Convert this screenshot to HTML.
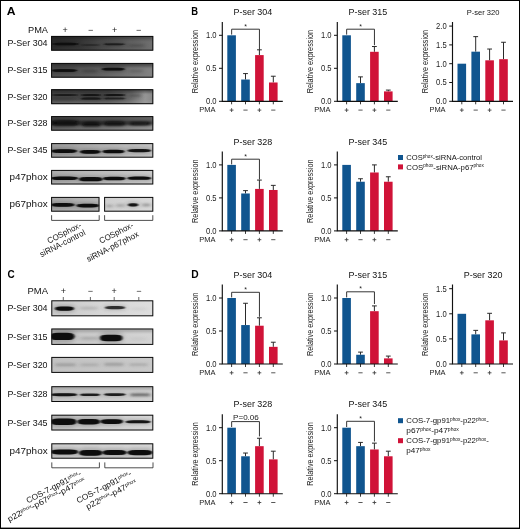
<!DOCTYPE html>
<html><head><meta charset="utf-8"><title>Figure</title>
<style>html,body{margin:0;padding:0;background:#fff}svg{display:block;will-change:transform;opacity:0.9999}body{font-family:"Liberation Sans",sans-serif}</style></head>
<body>
<svg width="520" height="529" viewBox="0 0 520 529" font-family="Liberation Sans, sans-serif">
<defs>
<filter id="b0" x="-30%" y="-200%" width="160%" height="500%"><feGaussianBlur stdDeviation="0.35"/></filter>
<filter id="b1" x="-30%" y="-200%" width="160%" height="500%"><feGaussianBlur stdDeviation="0.8 0.5"/></filter>
<filter id="b2" x="-30%" y="-200%" width="160%" height="500%"><feGaussianBlur stdDeviation="1.4 0.8"/></filter>
<filter id="b3" x="-30%" y="-200%" width="160%" height="500%"><feGaussianBlur stdDeviation="2.0 1.0"/></filter>
<filter id="b4" x="-30%" y="-200%" width="160%" height="500%"><feGaussianBlur stdDeviation="2.6 1.5"/></filter>
</defs>
<rect width="520" height="529" fill="#fff"/>
<text x="6.8" y="14.8" font-size="11.2" text-anchor="start" font-weight="bold" fill="#000" textLength="8.8" lengthAdjust="spacingAndGlyphs" >A</text>
<text x="191.3" y="15.1" font-size="11.2" text-anchor="start" font-weight="bold" fill="#000" textLength="6.8" lengthAdjust="spacingAndGlyphs" >B</text>
<text x="7.6" y="278.2" font-size="11.2" text-anchor="start" font-weight="bold" fill="#000" textLength="7.2" lengthAdjust="spacingAndGlyphs" >C</text>
<text x="191.3" y="278.2" font-size="11.2" text-anchor="start" font-weight="bold" fill="#000" textLength="7.4" lengthAdjust="spacingAndGlyphs" >D</text>
<text x="28" y="32.6" font-size="9.5" text-anchor="start" font-weight="normal" fill="#111" textLength="20" lengthAdjust="spacingAndGlyphs" >PMA</text>
<text x="65.2" y="33" font-size="9" text-anchor="middle" font-weight="normal" fill="#222" >+</text>
<text x="90.6" y="33" font-size="9" text-anchor="middle" font-weight="normal" fill="#222" >−</text>
<text x="114.6" y="33" font-size="9" text-anchor="middle" font-weight="normal" fill="#222" >+</text>
<text x="138.6" y="33" font-size="9" text-anchor="middle" font-weight="normal" fill="#222" >−</text>
<text x="47.6" y="46.2" font-size="9.5" text-anchor="end" font-weight="normal" fill="#111" textLength="40.2" lengthAdjust="spacingAndGlyphs" >P-Ser 304</text>
<text x="47.6" y="73.2" font-size="9.5" text-anchor="end" font-weight="normal" fill="#111" textLength="40.2" lengthAdjust="spacingAndGlyphs" >P-Ser 315</text>
<text x="47.6" y="99.7" font-size="9.5" text-anchor="end" font-weight="normal" fill="#111" textLength="40.2" lengthAdjust="spacingAndGlyphs" >P-Ser 320</text>
<text x="47.6" y="126.4" font-size="9.5" text-anchor="end" font-weight="normal" fill="#111" textLength="40.2" lengthAdjust="spacingAndGlyphs" >P-Ser 328</text>
<text x="47.6" y="153.39999999999998" font-size="9.5" text-anchor="end" font-weight="normal" fill="#111" textLength="40.2" lengthAdjust="spacingAndGlyphs" >P-Ser 345</text>
<text x="47.6" y="180.2" font-size="9.5" text-anchor="end" font-weight="normal" fill="#111" textLength="38" lengthAdjust="spacingAndGlyphs" >p47phox</text>
<text x="47.6" y="207.2" font-size="9.5" text-anchor="end" font-weight="normal" fill="#111" textLength="38" lengthAdjust="spacingAndGlyphs" >p67phox</text>
<defs><linearGradient id="g1" x1="0" x2="1" y1="0" y2="0"><stop offset="0" stop-color="#2c2c2c"/><stop offset="0.3" stop-color="#383838"/><stop offset="0.5" stop-color="#4a4a4a"/><stop offset="0.75" stop-color="#5e5e5e"/><stop offset="1" stop-color="#707070"/></linearGradient>
<clipPath id="c1"><rect x="51.2" y="36" width="102" height="14.6"/></clipPath></defs>
<rect x="51.2" y="36" width="102" height="14.6" fill="url(#g1)"/>
<g clip-path="url(#c1)">
<rect x="51.2" y="35" width="102" height="4.5" fill="#111" opacity="0.3" filter="url(#b2)"/>
<rect x="52.00" y="41.62" width="27.00" height="4.75" rx="2.38" fill="#080808" opacity="0.30" filter="url(#b4)"/>
<path d="M53.00 44.00Q53.00 42.70 60.50 42.70L70.50 42.70Q78.00 42.70 78.00 44.00Q78.00 45.30 70.50 45.30L60.50 45.30Q53.00 45.30 53.00 44.00Z" fill="#080808" opacity="0.95" filter="url(#b1)"/>
<rect x="81.00" y="43.29" width="19.00" height="3.42" rx="1.71" fill="#1c1c1c" opacity="0.16" filter="url(#b4)"/>
<path d="M82.00 45.00Q82.00 44.06 87.10 44.06L93.90 44.06Q99.00 44.06 99.00 45.00Q99.00 45.94 93.90 45.94L87.10 45.94Q82.00 45.94 82.00 45.00Z" fill="#1c1c1c" opacity="0.5" filter="url(#b1)"/>
<rect x="103.00" y="42.40" width="22.50" height="3.80" rx="1.90" fill="#0c0c0c" opacity="0.22" filter="url(#b4)"/>
<path d="M104.00 44.30Q104.00 43.26 110.15 43.26L118.35 43.26Q124.50 43.26 124.50 44.30Q124.50 45.34 118.35 45.34L110.15 45.34Q104.00 45.34 104.00 44.30Z" fill="#0c0c0c" opacity="0.7" filter="url(#b1)"/>
<rect x="128.00" y="43.89" width="17.00" height="3.42" rx="1.71" fill="#2a2a2a" opacity="0.11" filter="url(#b4)"/>
<path d="M129.00 45.60Q129.00 44.66 133.50 44.66L139.50 44.66Q144.00 44.66 144.00 45.60Q144.00 46.54 139.50 46.54L133.50 46.54Q129.00 46.54 129.00 45.60Z" fill="#2a2a2a" opacity="0.35" filter="url(#b2)"/>
</g>
<rect x="51.6" y="36.4" width="101.2" height="13.799999999999999" fill="none" stroke="#0c0c0c" stroke-width="1"/>
<defs><linearGradient id="g2" x1="0" x2="1" y1="0" y2="0"><stop offset="0" stop-color="#505050"/><stop offset="0.4" stop-color="#5c5c5c"/><stop offset="0.75" stop-color="#747474"/><stop offset="1" stop-color="#828282"/></linearGradient>
<clipPath id="c2"><rect x="51.2" y="63" width="102" height="14.6"/></clipPath></defs>
<rect x="51.2" y="63" width="102" height="14.6" fill="url(#g2)"/>
<g clip-path="url(#c2)">
<rect x="51.2" y="62" width="102" height="4.5" fill="#181818" opacity="0.5" filter="url(#b2)"/>
<rect x="50.50" y="68.12" width="27.50" height="4.75" rx="2.38" fill="#080808" opacity="0.28" filter="url(#b4)"/>
<path d="M51.50 70.50Q51.50 69.20 59.15 69.20L69.35 69.20Q77.00 69.20 77.00 70.50Q77.00 71.80 69.35 71.80L59.15 71.80Q51.50 71.80 51.50 70.50Z" fill="#080808" opacity="0.95" filter="url(#b1)"/>
<rect x="81.00" y="69.10" width="18.00" height="3.80" rx="1.90" fill="#2a2a2a" opacity="0.14" filter="url(#b4)"/>
<path d="M82.00 71.00Q82.00 69.96 86.80 69.96L93.20 69.96Q98.00 69.96 98.00 71.00Q98.00 72.04 93.20 72.04L86.80 72.04Q82.00 72.04 82.00 71.00Z" fill="#2a2a2a" opacity="0.45" filter="url(#b2)"/>
<rect x="101.00" y="66.73" width="24.50" height="4.94" rx="2.47" fill="#080808" opacity="0.28" filter="url(#b4)"/>
<path d="M102.00 69.20Q102.00 67.85 108.75 67.85L117.75 67.85Q124.50 67.85 124.50 69.20Q124.50 70.55 117.75 70.55L108.75 70.55Q102.00 70.55 102.00 69.20Z" fill="#080808" opacity="0.95" filter="url(#b1)"/>
<rect x="128.00" y="69.29" width="16.00" height="3.42" rx="1.71" fill="#3a3a3a" opacity="0.09" filter="url(#b4)"/>
<path d="M129.00 71.00Q129.00 70.06 133.20 70.06L138.80 70.06Q143.00 70.06 143.00 71.00Q143.00 71.94 138.80 71.94L133.20 71.94Q129.00 71.94 129.00 71.00Z" fill="#3a3a3a" opacity="0.3" filter="url(#b2)"/>
</g>
<rect x="51.6" y="63.4" width="101.2" height="13.799999999999999" fill="none" stroke="#0c0c0c" stroke-width="1"/>
<defs><linearGradient id="g3" x1="0" x2="1" y1="0" y2="0"><stop offset="0" stop-color="#484848"/><stop offset="0.55" stop-color="#505050"/><stop offset="0.78" stop-color="#6c6c6c"/><stop offset="0.92" stop-color="#969696"/><stop offset="1" stop-color="#888"/></linearGradient>
<clipPath id="c3"><rect x="51.2" y="89.3" width="102" height="14.8"/></clipPath></defs>
<rect x="51.2" y="89.3" width="102" height="14.8" fill="url(#g3)"/>
<g clip-path="url(#c3)">
<rect x="51.2" y="88.3" width="102" height="4" fill="#111" opacity="0.45" filter="url(#b2)"/>
<rect x="51.2" y="101" width="102" height="4" fill="#aaa" opacity="0.25" filter="url(#b2)"/>
<rect x="51.00" y="93.39" width="28.00" height="3.23" rx="1.61" fill="#101010" opacity="0.21" filter="url(#b4)"/>
<path d="M52.00 95.00Q52.00 94.12 59.80 94.12L70.20 94.12Q78.00 94.12 78.00 95.00Q78.00 95.88 70.20 95.88L59.80 95.88Q52.00 95.88 52.00 95.00Z" fill="#101010" opacity="0.7" filter="url(#b1)"/>
<rect x="80.00" y="93.10" width="22.00" height="3.80" rx="1.90" fill="#0c0c0c" opacity="0.24" filter="url(#b4)"/>
<path d="M81.00 95.00Q81.00 93.96 87.00 93.96L95.00 93.96Q101.00 93.96 101.00 95.00Q101.00 96.04 95.00 96.04L87.00 96.04Q81.00 96.04 81.00 95.00Z" fill="#0c0c0c" opacity="0.8" filter="url(#b1)"/>
<rect x="80.00" y="96.61" width="22.00" height="4.18" rx="2.09" fill="#0c0c0c" opacity="0.22" filter="url(#b4)"/>
<path d="M81.00 98.70Q81.00 97.56 87.00 97.56L95.00 97.56Q101.00 97.56 101.00 98.70Q101.00 99.84 95.00 99.84L87.00 99.84Q81.00 99.84 81.00 98.70Z" fill="#0c0c0c" opacity="0.75" filter="url(#b1)"/>
<rect x="103.00" y="93.10" width="23.00" height="3.80" rx="1.90" fill="#0c0c0c" opacity="0.26" filter="url(#b4)"/>
<path d="M104.00 95.00Q104.00 93.96 110.30 93.96L118.70 93.96Q125.00 93.96 125.00 95.00Q125.00 96.04 118.70 96.04L110.30 96.04Q104.00 96.04 104.00 95.00Z" fill="#0c0c0c" opacity="0.85" filter="url(#b1)"/>
<rect x="103.00" y="96.79" width="23.00" height="3.42" rx="1.71" fill="#101010" opacity="0.20" filter="url(#b4)"/>
<path d="M104.00 98.50Q104.00 97.56 110.30 97.56L118.70 97.56Q125.00 97.56 125.00 98.50Q125.00 99.44 118.70 99.44L110.30 99.44Q104.00 99.44 104.00 98.50Z" fill="#101010" opacity="0.65" filter="url(#b1)"/>
<rect x="128.00" y="93.79" width="14.00" height="3.42" rx="1.71" fill="#303030" opacity="0.14" filter="url(#b4)"/>
<path d="M129.00 95.50Q129.00 94.56 132.60 94.56L137.40 94.56Q141.00 94.56 141.00 95.50Q141.00 96.44 137.40 96.44L132.60 96.44Q129.00 96.44 129.00 95.50Z" fill="#303030" opacity="0.45" filter="url(#b2)"/>
<rect x="51.00" y="96.99" width="27.00" height="3.42" rx="1.71" fill="#222" opacity="0.09" filter="url(#b4)"/>
<path d="M52.00 98.70Q52.00 97.76 59.50 97.76L69.50 97.76Q77.00 97.76 77.00 98.70Q77.00 99.64 69.50 99.64L59.50 99.64Q52.00 99.64 52.00 98.70Z" fill="#222" opacity="0.3" filter="url(#b2)"/>
</g>
<rect x="51.6" y="89.7" width="101.2" height="14.0" fill="none" stroke="#0c0c0c" stroke-width="1"/>
<defs><linearGradient id="g4" x1="0" x2="1" y1="0" y2="0"><stop offset="0" stop-color="#606060"/><stop offset="0.5" stop-color="#747474"/><stop offset="1" stop-color="#949494"/></linearGradient>
<clipPath id="c4"><rect x="51.2" y="116.2" width="102" height="14.4"/></clipPath></defs>
<rect x="51.2" y="116.2" width="102" height="14.4" fill="url(#g4)"/>
<g clip-path="url(#c4)">
<rect x="49.2" y="114.5" width="106" height="9.5" fill="#161616" opacity="0.38" filter="url(#b3)"/>
<rect x="50.00" y="118.82" width="29.50" height="8.36" rx="4.18" fill="#080808" opacity="0.28" filter="url(#b4)"/>
<path d="M51.00 123.00Q51.00 120.71 59.25 120.71L70.25 120.71Q78.50 120.71 78.50 123.00Q78.50 125.29 70.25 125.29L59.25 125.29Q51.00 125.29 51.00 123.00Z" fill="#080808" opacity="0.95" filter="url(#b2)"/>
<rect x="81.00" y="120.78" width="20.50" height="6.84" rx="3.42" fill="#080808" opacity="0.27" filter="url(#b4)"/>
<path d="M82.00 124.20Q82.00 122.33 87.55 122.33L94.95 122.33Q100.50 122.33 100.50 124.20Q100.50 126.07 94.95 126.07L87.55 126.07Q82.00 126.07 82.00 124.20Z" fill="#080808" opacity="0.9" filter="url(#b2)"/>
<rect x="103.00" y="120.37" width="23.00" height="6.46" rx="3.23" fill="#080808" opacity="0.27" filter="url(#b4)"/>
<path d="M104.00 123.60Q104.00 121.83 110.30 121.83L118.70 121.83Q125.00 121.83 125.00 123.60Q125.00 125.37 118.70 125.37L110.30 125.37Q104.00 125.37 104.00 123.60Z" fill="#080808" opacity="0.9" filter="url(#b2)"/>
<rect x="128.50" y="121.13" width="23.00" height="4.94" rx="2.47" fill="#080808" opacity="0.26" filter="url(#b4)"/>
<path d="M129.50 123.60Q129.50 122.25 135.80 122.25L144.20 122.25Q150.50 122.25 150.50 123.60Q150.50 124.95 144.20 124.95L135.80 124.95Q129.50 124.95 129.50 123.60Z" fill="#080808" opacity="0.85" filter="url(#b2)"/>
<rect x="49.00" y="120.92" width="106.00" height="4.56" rx="2.28" fill="#0c0c0c" opacity="0.17" filter="url(#b4)"/>
<path d="M50.00 123.20Q50.00 121.95 81.20 121.95L122.80 121.95Q154.00 121.95 154.00 123.20Q154.00 124.45 122.80 124.45L81.20 124.45Q50.00 124.45 50.00 123.20Z" fill="#0c0c0c" opacity="0.55" filter="url(#b3)"/>
</g>
<rect x="51.6" y="116.60000000000001" width="101.2" height="13.6" fill="none" stroke="#0c0c0c" stroke-width="1"/>
<defs><linearGradient id="g5" x1="0" x2="1" y1="0" y2="0"><stop offset="0" stop-color="#9a9a9a"/><stop offset="0.5" stop-color="#b0b0b0"/><stop offset="1" stop-color="#c2c2c2"/></linearGradient>
<clipPath id="c5"><rect x="51.2" y="143.2" width="102" height="14.4"/></clipPath></defs>
<rect x="51.2" y="143.2" width="102" height="14.4" fill="url(#g5)"/>
<g clip-path="url(#c5)">
<rect x="50.00" y="147.68" width="28.00" height="6.84" rx="3.42" fill="#080808" opacity="0.16" filter="url(#b4)"/>
<path d="M51.00 151.10Q51.00 149.23 58.80 149.23L69.20 149.23Q77.00 149.23 77.00 151.10Q77.00 152.97 69.20 152.97L58.80 152.97Q51.00 152.97 51.00 151.10Z" fill="#080808" opacity="1" filter="url(#b1)"/>
<rect x="79.00" y="148.38" width="22.50" height="6.84" rx="3.42" fill="#080808" opacity="0.16" filter="url(#b4)"/>
<path d="M80.00 151.80Q80.00 149.93 86.15 149.93L94.35 149.93Q100.50 149.93 100.50 151.80Q100.50 153.67 94.35 153.67L86.15 153.67Q80.00 153.67 80.00 151.80Z" fill="#080808" opacity="1" filter="url(#b1)"/>
<rect x="101.50" y="148.27" width="24.00" height="6.46" rx="3.23" fill="#080808" opacity="0.16" filter="url(#b4)"/>
<path d="M102.50 151.50Q102.50 149.73 109.10 149.73L117.90 149.73Q124.50 149.73 124.50 151.50Q124.50 153.27 117.90 153.27L109.10 153.27Q102.50 153.27 102.50 151.50Z" fill="#080808" opacity="1" filter="url(#b1)"/>
<rect x="126.50" y="147.75" width="25.50" height="5.70" rx="2.85" fill="#080808" opacity="0.15" filter="url(#b4)"/>
<path d="M127.50 150.60Q127.50 149.04 134.55 149.04L143.95 149.04Q151.00 149.04 151.00 150.60Q151.00 152.16 143.95 152.16L134.55 152.16Q127.50 152.16 127.50 150.60Z" fill="#080808" opacity="0.95" filter="url(#b1)"/>
</g>
<rect x="51.6" y="143.6" width="101.2" height="13.6" fill="none" stroke="#0c0c0c" stroke-width="1"/>
<defs><linearGradient id="g6" x1="0" x2="1" y1="0" y2="0"><stop offset="0" stop-color="#acacac"/><stop offset="0.5" stop-color="#bcbcbc"/><stop offset="1" stop-color="#cacaca"/></linearGradient>
<clipPath id="c6"><rect x="51.2" y="170" width="102" height="14.4"/></clipPath></defs>
<rect x="51.2" y="170" width="102" height="14.4" fill="url(#g6)"/>
<g clip-path="url(#c6)">
<rect x="50.00" y="174.97" width="29.00" height="6.46" rx="3.23" fill="#080808" opacity="0.16" filter="url(#b4)"/>
<path d="M51.00 178.20Q51.00 176.43 59.10 176.43L69.90 176.43Q78.00 176.43 78.00 178.20Q78.00 179.97 69.90 179.97L59.10 179.97Q51.00 179.97 51.00 178.20Z" fill="#080808" opacity="1" filter="url(#b1)"/>
<rect x="78.00" y="175.40" width="25.50" height="7.60" rx="3.80" fill="#080808" opacity="0.16" filter="url(#b4)"/>
<path d="M79.00 179.20Q79.00 177.12 86.05 177.12L95.45 177.12Q102.50 177.12 102.50 179.20Q102.50 181.28 95.45 181.28L86.05 181.28Q79.00 181.28 79.00 179.20Z" fill="#080808" opacity="1" filter="url(#b1)"/>
<rect x="102.00" y="175.37" width="24.50" height="6.46" rx="3.23" fill="#080808" opacity="0.16" filter="url(#b4)"/>
<path d="M103.00 178.60Q103.00 176.83 109.75 176.83L118.75 176.83Q125.50 176.83 125.50 178.60Q125.50 180.37 118.75 180.37L109.75 180.37Q103.00 180.37 103.00 178.60Z" fill="#080808" opacity="1" filter="url(#b1)"/>
<rect x="126.50" y="175.16" width="25.50" height="6.08" rx="3.04" fill="#080808" opacity="0.16" filter="url(#b4)"/>
<path d="M127.50 178.20Q127.50 176.54 134.55 176.54L143.95 176.54Q151.00 176.54 151.00 178.20Q151.00 179.86 143.95 179.86L134.55 179.86Q127.50 179.86 127.50 178.20Z" fill="#080808" opacity="1" filter="url(#b1)"/>
</g>
<rect x="51.6" y="170.4" width="101.2" height="13.6" fill="none" stroke="#0c0c0c" stroke-width="1"/>
<defs><linearGradient id="g7" x1="0" x2="1" y1="0" y2="0"><stop offset="0" stop-color="#a8a8a8"/><stop offset="1" stop-color="#b8b8b8"/></linearGradient>
<clipPath id="c7"><rect x="51.2" y="197" width="48.2" height="14.6"/></clipPath></defs>
<rect x="51.2" y="197" width="48.2" height="14.6" fill="url(#g7)"/>
<g clip-path="url(#c7)">
<rect x="50.00" y="201.38" width="25.50" height="6.84" rx="3.42" fill="#080808" opacity="0.16" filter="url(#b4)"/>
<path d="M51.00 204.80Q51.00 202.93 58.05 202.93L67.45 202.93Q74.50 202.93 74.50 204.80Q74.50 206.67 67.45 206.67L58.05 206.67Q51.00 206.67 51.00 204.80Z" fill="#080808" opacity="1" filter="url(#b1)"/>
<rect x="75.50" y="202.18" width="24.50" height="6.84" rx="3.42" fill="#080808" opacity="0.16" filter="url(#b4)"/>
<path d="M76.50 205.60Q76.50 203.73 83.25 203.73L92.25 203.73Q99.00 203.73 99.00 205.60Q99.00 207.47 92.25 207.47L83.25 207.47Q76.50 207.47 76.50 205.60Z" fill="#080808" opacity="1" filter="url(#b1)"/>
</g>
<rect x="51.6" y="197.4" width="47.400000000000006" height="13.799999999999999" fill="none" stroke="#0c0c0c" stroke-width="1"/>
<defs><linearGradient id="g8" x1="0" x2="1" y1="0" y2="0"><stop offset="0" stop-color="#cfcfcf"/><stop offset="1" stop-color="#d8d8d8"/></linearGradient>
<clipPath id="c8"><rect x="104.2" y="197" width="49" height="14.6"/></clipPath></defs>
<rect x="104.2" y="197" width="49" height="14.6" fill="url(#g8)"/>
<g clip-path="url(#c8)">
<rect x="105.00" y="204.29" width="9.00" height="3.42" rx="1.71" fill="#555" opacity="0.06" filter="url(#b4)"/>
<path d="M106.00 206.00Q106.00 205.06 108.10 205.06L110.90 205.06Q113.00 205.06 113.00 206.00Q113.00 206.94 110.90 206.94L108.10 206.94Q106.00 206.94 106.00 206.00Z" fill="#555" opacity="0.35" filter="url(#b2)"/>
<rect x="115.00" y="203.79" width="11.00" height="3.42" rx="1.71" fill="#555" opacity="0.06" filter="url(#b4)"/>
<path d="M116.00 205.50Q116.00 204.56 118.70 204.56L122.30 204.56Q125.00 204.56 125.00 205.50Q125.00 206.44 122.30 206.44L118.70 206.44Q116.00 206.44 116.00 205.50Z" fill="#555" opacity="0.4" filter="url(#b2)"/>
<rect x="127.00" y="201.76" width="12.20" height="6.08" rx="3.04" fill="#0c0c0c" opacity="0.15" filter="url(#b4)"/>
<path d="M128.00 204.80Q128.00 203.14 131.06 203.14L135.14 203.14Q138.20 203.14 138.20 204.80Q138.20 206.46 135.14 206.46L131.06 206.46Q128.00 206.46 128.00 204.80Z" fill="#0c0c0c" opacity="0.95" filter="url(#b1)"/>
<rect x="141.00" y="203.10" width="10.50" height="3.80" rx="1.90" fill="#444" opacity="0.07" filter="url(#b4)"/>
<path d="M142.00 205.00Q142.00 203.96 144.55 203.96L147.95 203.96Q150.50 203.96 150.50 205.00Q150.50 206.04 147.95 206.04L144.55 206.04Q142.00 206.04 142.00 205.00Z" fill="#444" opacity="0.45" filter="url(#b2)"/>
</g>
<rect x="104.60000000000001" y="197.4" width="48.2" height="13.799999999999999" fill="none" stroke="#0c0c0c" stroke-width="1"/>
<path d="M51.6 215.2V220.4H99.2V215.2" stroke="#222" stroke-width="0.8" fill="none"/>
<path d="M104.6 215.2V220.4H152.8V215.2" stroke="#222" stroke-width="0.8" fill="none"/>
<text transform="translate(82,227) rotate(-27)" font-size="8.4" text-anchor="end" fill="#111" textLength="37" lengthAdjust="spacingAndGlyphs">COSphox-</text>
<text transform="translate(86,234.5) rotate(-27)" font-size="8.4" text-anchor="end" fill="#111" textLength="50" lengthAdjust="spacingAndGlyphs">siRNA-control</text>
<text transform="translate(134,227) rotate(-27)" font-size="8.4" text-anchor="end" fill="#111" textLength="37" lengthAdjust="spacingAndGlyphs">COSphox-</text>
<text transform="translate(139.5,236) rotate(-27)" font-size="8.4" text-anchor="end" fill="#111" textLength="57.5" lengthAdjust="spacingAndGlyphs">siRNA-p67phox</text>
<text x="27.5" y="294" font-size="9.5" text-anchor="start" font-weight="normal" fill="#111" textLength="20.5" lengthAdjust="spacingAndGlyphs" >PMA</text>
<text x="63.3" y="294" font-size="9" text-anchor="middle" font-weight="normal" fill="#222" >+</text>
<path d="M63.3 297V300.6" stroke="#222" stroke-width="0.7"/>
<text x="90.4" y="294" font-size="9" text-anchor="middle" font-weight="normal" fill="#222" >−</text>
<path d="M90.4 297V300.6" stroke="#222" stroke-width="0.7"/>
<text x="114.2" y="294" font-size="9" text-anchor="middle" font-weight="normal" fill="#222" >+</text>
<path d="M114.2 297V300.6" stroke="#222" stroke-width="0.7"/>
<text x="138.8" y="294" font-size="9" text-anchor="middle" font-weight="normal" fill="#222" >−</text>
<path d="M138.8 297V300.6" stroke="#222" stroke-width="0.7"/>
<text x="47.6" y="311.4" font-size="9.5" text-anchor="end" font-weight="normal" fill="#111" textLength="40.2" lengthAdjust="spacingAndGlyphs" >P-Ser 304</text>
<text x="47.6" y="339.6" font-size="9.5" text-anchor="end" font-weight="normal" fill="#111" textLength="40.2" lengthAdjust="spacingAndGlyphs" >P-Ser 315</text>
<text x="47.6" y="368" font-size="9.5" text-anchor="end" font-weight="normal" fill="#111" textLength="40.2" lengthAdjust="spacingAndGlyphs" >P-Ser 320</text>
<text x="47.6" y="397.3" font-size="9.5" text-anchor="end" font-weight="normal" fill="#111" textLength="40.2" lengthAdjust="spacingAndGlyphs" >P-Ser 328</text>
<text x="47.6" y="425.8" font-size="9.5" text-anchor="end" font-weight="normal" fill="#111" textLength="40.2" lengthAdjust="spacingAndGlyphs" >P-Ser 345</text>
<text x="47.6" y="454.4" font-size="9.5" text-anchor="end" font-weight="normal" fill="#111" textLength="38" lengthAdjust="spacingAndGlyphs" >p47phox</text>
<defs><linearGradient id="g9" x1="0" x2="1" y1="0" y2="0"><stop offset="0" stop-color="#cacaca"/><stop offset="0.5" stop-color="#d6d6d6"/><stop offset="1" stop-color="#dedede"/></linearGradient>
<clipPath id="c9"><rect x="51.4" y="300.4" width="101.8" height="15.8"/></clipPath></defs>
<rect x="51.4" y="300.4" width="101.8" height="15.8" fill="url(#g9)"/>
<g clip-path="url(#c9)">
<rect x="54.00" y="304.80" width="21.00" height="7.60" rx="3.80" fill="#080808" opacity="0.16" filter="url(#b4)"/>
<path d="M55.00 308.60Q55.00 306.52 60.70 306.52L68.30 306.52Q74.00 306.52 74.00 308.60Q74.00 310.68 68.30 310.68L60.70 310.68Q55.00 310.68 55.00 308.60Z" fill="#080808" opacity="1" filter="url(#b1)"/>
<rect x="79.00" y="306.30" width="20.00" height="3.80" rx="1.90" fill="#777" opacity="0.06" filter="url(#b4)"/>
<path d="M80.00 308.20Q80.00 307.16 85.40 307.16L92.60 307.16Q98.00 307.16 98.00 308.20Q98.00 309.24 92.60 309.24L85.40 309.24Q80.00 309.24 80.00 308.20Z" fill="#777" opacity="0.35" filter="url(#b3)"/>
<rect x="104.00" y="304.75" width="22.00" height="5.70" rx="2.85" fill="#151515" opacity="0.14" filter="url(#b4)"/>
<path d="M105.00 307.60Q105.00 306.04 111.00 306.04L119.00 306.04Q125.00 306.04 125.00 307.60Q125.00 309.16 119.00 309.16L111.00 309.16Q105.00 309.16 105.00 307.60Z" fill="#151515" opacity="0.85" filter="url(#b1)"/>
<rect x="130.00" y="307.48" width="18.00" height="3.04" rx="1.52" fill="#999" opacity="0.03" filter="url(#b4)"/>
<path d="M131.00 309.00Q131.00 308.17 135.80 308.17L142.20 308.17Q147.00 308.17 147.00 309.00Q147.00 309.83 142.20 309.83L135.80 309.83Q131.00 309.83 131.00 309.00Z" fill="#999" opacity="0.2" filter="url(#b3)"/>
</g>
<rect x="51.8" y="300.79999999999995" width="101.0" height="15.0" fill="none" stroke="#0c0c0c" stroke-width="1"/>
<defs><linearGradient id="g10" x1="0" x2="1" y1="0" y2="0"><stop offset="0" stop-color="#c4c4c4"/><stop offset="0.5" stop-color="#cdcdcd"/><stop offset="1" stop-color="#d4d4d4"/></linearGradient>
<clipPath id="c10"><rect x="51.4" y="328.6" width="101.8" height="16.2"/></clipPath></defs>
<rect x="51.4" y="328.6" width="101.8" height="16.2" fill="url(#g10)"/>
<g clip-path="url(#c10)">
<rect x="51.4" y="328.6" width="101.8" height="3.5" fill="#555" opacity="0.3" filter="url(#b2)"/>
<rect x="49.00" y="329.75" width="26.50" height="13.30" rx="6.65" fill="#080808" opacity="0.16" filter="url(#b4)"/>
<path d="M50.00 336.40Q50.00 332.76 57.35 332.76L67.15 332.76Q74.50 332.76 74.50 336.40Q74.50 340.04 67.15 340.04L57.35 340.04Q50.00 340.04 50.00 336.40Z" fill="#080808" opacity="1" filter="url(#b1)"/>
<rect x="79.00" y="336.31" width="21.00" height="4.18" rx="2.09" fill="#777" opacity="0.06" filter="url(#b4)"/>
<path d="M80.00 338.40Q80.00 337.26 85.70 337.26L93.30 337.26Q99.00 337.26 99.00 338.40Q99.00 339.54 93.30 339.54L85.70 339.54Q80.00 339.54 80.00 338.40Z" fill="#777" opacity="0.4" filter="url(#b3)"/>
<rect x="99.00" y="332.11" width="24.50" height="11.78" rx="5.89" fill="#080808" opacity="0.16" filter="url(#b4)"/>
<path d="M100.00 338.00Q100.00 334.78 106.75 334.78L115.75 334.78Q122.50 334.78 122.50 338.00Q122.50 341.22 115.75 341.22L106.75 341.22Q100.00 341.22 100.00 338.00Z" fill="#080808" opacity="1" filter="url(#b1)"/>
<rect x="129.00" y="337.48" width="19.00" height="3.04" rx="1.52" fill="#999" opacity="0.03" filter="url(#b4)"/>
<path d="M130.00 339.00Q130.00 338.17 135.10 338.17L141.90 338.17Q147.00 338.17 147.00 339.00Q147.00 339.83 141.90 339.83L135.10 339.83Q130.00 339.83 130.00 339.00Z" fill="#999" opacity="0.2" filter="url(#b3)"/>
</g>
<rect x="51.8" y="329.0" width="101.0" height="15.399999999999999" fill="none" stroke="#0c0c0c" stroke-width="1"/>
<defs><linearGradient id="g11" x1="0" x2="1" y1="0" y2="0"><stop offset="0" stop-color="#c2c2c2"/><stop offset="1" stop-color="#c9c9c9"/></linearGradient>
<clipPath id="c11"><rect x="51.4" y="357" width="101.8" height="15.8"/></clipPath></defs>
<rect x="51.4" y="357" width="101.8" height="15.8" fill="url(#g11)"/>
<g clip-path="url(#c11)">
<rect x="54.00" y="362.90" width="23.00" height="3.80" rx="1.90" fill="#666" opacity="0.07" filter="url(#b4)"/>
<path d="M55.00 364.80Q55.00 363.76 61.30 363.76L69.70 363.76Q76.00 363.76 76.00 364.80Q76.00 365.84 69.70 365.84L61.30 365.84Q55.00 365.84 55.00 364.80Z" fill="#666" opacity="0.45" filter="url(#b2)"/>
<rect x="79.00" y="363.09" width="21.00" height="3.42" rx="1.71" fill="#777" opacity="0.06" filter="url(#b4)"/>
<path d="M80.00 364.80Q80.00 363.86 85.70 363.86L93.30 363.86Q99.00 363.86 99.00 364.80Q99.00 365.74 93.30 365.74L85.70 365.74Q80.00 365.74 80.00 364.80Z" fill="#777" opacity="0.35" filter="url(#b2)"/>
<rect x="103.00" y="362.50" width="22.00" height="3.80" rx="1.90" fill="#666" opacity="0.07" filter="url(#b4)"/>
<path d="M104.00 364.40Q104.00 363.36 110.00 363.36L118.00 363.36Q124.00 363.36 124.00 364.40Q124.00 365.44 118.00 365.44L110.00 365.44Q104.00 365.44 104.00 364.40Z" fill="#666" opacity="0.45" filter="url(#b2)"/>
<rect x="128.00" y="362.89" width="21.00" height="3.42" rx="1.71" fill="#707070" opacity="0.06" filter="url(#b4)"/>
<path d="M129.00 364.60Q129.00 363.66 134.70 363.66L142.30 363.66Q148.00 363.66 148.00 364.60Q148.00 365.54 142.30 365.54L134.70 365.54Q129.00 365.54 129.00 364.60Z" fill="#707070" opacity="0.4" filter="url(#b2)"/>
</g>
<rect x="51.8" y="357.4" width="101.0" height="15.0" fill="none" stroke="#0c0c0c" stroke-width="1"/>
<defs><linearGradient id="g12" x1="0" x2="1" y1="0" y2="0"><stop offset="0" stop-color="#c6c6c6"/><stop offset="1" stop-color="#d0d0d0"/></linearGradient>
<clipPath id="c12"><rect x="51.4" y="386.3" width="101.8" height="15.6"/></clipPath></defs>
<rect x="51.4" y="386.3" width="101.8" height="15.6" fill="url(#g12)"/>
<g clip-path="url(#c12)">
<rect x="51.4" y="386.3" width="101.8" height="3.5" fill="#666" opacity="0.3" filter="url(#b2)"/>
<rect x="50.00" y="392.14" width="28.00" height="5.32" rx="2.66" fill="#080808" opacity="0.15" filter="url(#b4)"/>
<path d="M51.00 394.80Q51.00 393.34 58.80 393.34L69.20 393.34Q77.00 393.34 77.00 394.80Q77.00 396.26 69.20 396.26L58.80 396.26Q51.00 396.26 51.00 394.80Z" fill="#080808" opacity="0.95" filter="url(#b1)"/>
<rect x="79.00" y="392.52" width="22.00" height="4.56" rx="2.28" fill="#111" opacity="0.14" filter="url(#b4)"/>
<path d="M80.00 394.80Q80.00 393.55 86.00 393.55L94.00 393.55Q100.00 393.55 100.00 394.80Q100.00 396.05 94.00 396.05L86.00 396.05Q80.00 396.05 80.00 394.80Z" fill="#111" opacity="0.9" filter="url(#b1)"/>
<rect x="103.00" y="392.13" width="23.50" height="4.94" rx="2.47" fill="#0c0c0c" opacity="0.14" filter="url(#b4)"/>
<path d="M104.00 394.60Q104.00 393.25 110.45 393.25L119.05 393.25Q125.50 393.25 125.50 394.60Q125.50 395.95 119.05 395.95L110.45 395.95Q104.00 395.95 104.00 394.60Z" fill="#0c0c0c" opacity="0.9" filter="url(#b1)"/>
<rect x="129.00" y="392.90" width="22.50" height="3.80" rx="1.90" fill="#222" opacity="0.11" filter="url(#b4)"/>
<path d="M130.00 394.80Q130.00 393.76 136.15 393.76L144.35 393.76Q150.50 393.76 150.50 394.80Q150.50 395.84 144.35 395.84L136.15 395.84Q130.00 395.84 130.00 394.80Z" fill="#222" opacity="0.7" filter="url(#b2)"/>
</g>
<rect x="51.8" y="386.7" width="101.0" height="14.799999999999999" fill="none" stroke="#0c0c0c" stroke-width="1"/>
<defs><linearGradient id="g13" x1="0" x2="1" y1="0" y2="0"><stop offset="0" stop-color="#c4c4c4"/><stop offset="0.5" stop-color="#cecece"/><stop offset="1" stop-color="#d6d6d6"/></linearGradient>
<clipPath id="c13"><rect x="51.4" y="414.8" width="101.8" height="15.6"/></clipPath></defs>
<rect x="51.4" y="414.8" width="101.8" height="15.6" fill="url(#g13)"/>
<g clip-path="url(#c13)">
<rect x="49.50" y="415.91" width="28.00" height="11.78" rx="5.89" fill="#080808" opacity="0.16" filter="url(#b4)"/>
<path d="M50.50 421.80Q50.50 418.58 58.30 418.58L68.70 418.58Q76.50 418.58 76.50 421.80Q76.50 425.02 68.70 425.02L58.30 425.02Q50.50 425.02 50.50 421.80Z" fill="#080808" opacity="1" filter="url(#b1)"/>
<rect x="76.50" y="416.86" width="24.50" height="9.88" rx="4.94" fill="#080808" opacity="0.16" filter="url(#b4)"/>
<path d="M77.50 421.80Q77.50 419.10 84.25 419.10L93.25 419.10Q100.00 419.10 100.00 421.80Q100.00 424.50 93.25 424.50L84.25 424.50Q77.50 424.50 77.50 421.80Z" fill="#080808" opacity="1" filter="url(#b1)"/>
<rect x="99.50" y="417.42" width="24.50" height="8.36" rx="4.18" fill="#080808" opacity="0.16" filter="url(#b4)"/>
<path d="M100.50 421.60Q100.50 419.31 107.25 419.31L116.25 419.31Q123.00 419.31 123.00 421.60Q123.00 423.89 116.25 423.89L107.25 423.89Q100.50 423.89 100.50 421.60Z" fill="#080808" opacity="1" filter="url(#b1)"/>
<rect x="124.50" y="418.95" width="27.00" height="5.70" rx="2.85" fill="#080808" opacity="0.15" filter="url(#b4)"/>
<path d="M125.50 421.80Q125.50 420.24 133.00 420.24L143.00 420.24Q150.50 420.24 150.50 421.80Q150.50 423.36 143.00 423.36L133.00 423.36Q125.50 423.36 125.50 421.80Z" fill="#080808" opacity="0.95" filter="url(#b1)"/>
</g>
<rect x="51.8" y="415.2" width="101.0" height="14.799999999999999" fill="none" stroke="#0c0c0c" stroke-width="1"/>
<defs><linearGradient id="g14" x1="0" x2="1" y1="0" y2="0"><stop offset="0" stop-color="#cdcdcd"/><stop offset="1" stop-color="#d6d6d6"/></linearGradient>
<clipPath id="c14"><rect x="51.4" y="443.4" width="101.8" height="15.2"/></clipPath></defs>
<rect x="51.4" y="443.4" width="101.8" height="15.2" fill="url(#g14)"/>
<g clip-path="url(#c14)">
<rect x="50.00" y="447.63" width="29.00" height="8.74" rx="4.37" fill="#080808" opacity="0.16" filter="url(#b4)"/>
<path d="M51.00 452.00Q51.00 449.61 59.10 449.61L69.90 449.61Q78.00 449.61 78.00 452.00Q78.00 454.39 69.90 454.39L59.10 454.39Q51.00 454.39 51.00 452.00Z" fill="#080808" opacity="1" filter="url(#b1)"/>
<rect x="78.00" y="447.48" width="25.50" height="10.64" rx="5.32" fill="#080808" opacity="0.16" filter="url(#b4)"/>
<path d="M79.00 452.80Q79.00 449.89 86.05 449.89L95.45 449.89Q102.50 449.89 102.50 452.80Q102.50 455.71 95.45 455.71L86.05 455.71Q79.00 455.71 79.00 452.80Z" fill="#080808" opacity="1" filter="url(#b1)"/>
<rect x="101.50" y="448.04" width="26.00" height="9.12" rx="4.56" fill="#080808" opacity="0.16" filter="url(#b4)"/>
<path d="M102.50 452.60Q102.50 450.10 109.70 450.10L119.30 450.10Q126.50 450.10 126.50 452.60Q126.50 455.10 119.30 455.10L109.70 455.10Q102.50 455.10 102.50 452.60Z" fill="#080808" opacity="1" filter="url(#b1)"/>
<rect x="126.50" y="447.85" width="27.00" height="9.50" rx="4.75" fill="#080808" opacity="0.16" filter="url(#b4)"/>
<path d="M127.50 452.60Q127.50 450.00 135.00 450.00L145.00 450.00Q152.50 450.00 152.50 452.60Q152.50 455.20 145.00 455.20L135.00 455.20Q127.50 455.20 127.50 452.60Z" fill="#080808" opacity="1" filter="url(#b1)"/>
</g>
<rect x="51.8" y="443.79999999999995" width="101.0" height="14.399999999999999" fill="none" stroke="#0c0c0c" stroke-width="1"/>
<path d="M51.8 462.4V467.8H99.4V462.4" stroke="#222" stroke-width="0.8" fill="none"/>
<path d="M104.8 462.4V467.8H153V462.4" stroke="#222" stroke-width="0.8" fill="none"/>
<text transform="translate(82,475.3) rotate(-27.5)" font-size="8.2" text-anchor="end" fill="#111" textLength="61" lengthAdjust="spacingAndGlyphs"><tspan>COS-7-gp91</tspan><tspan font-size="5" dy="-2.6">phox</tspan><tspan dy="2.6">-</tspan></text>
<text transform="translate(86,482) rotate(-27.5)" font-size="8.2" text-anchor="end" fill="#111" textLength="86.5" lengthAdjust="spacingAndGlyphs"><tspan>p22</tspan><tspan font-size="5" dy="-2.6">phox</tspan><tspan dy="2.6">-p67</tspan><tspan font-size="5" dy="-2.6">phox</tspan><tspan dy="2.6">-p47</tspan><tspan font-size="5" dy="-2.6">phox</tspan></text>
<text transform="translate(132.3,475.3) rotate(-27.5)" font-size="8.2" text-anchor="end" fill="#111" textLength="61" lengthAdjust="spacingAndGlyphs"><tspan>COS-7-gp91</tspan><tspan font-size="5" dy="-2.6">phox</tspan><tspan dy="2.6">-</tspan></text>
<text transform="translate(137.3,483.8) rotate(-27.5)" font-size="8.2" text-anchor="end" fill="#111" textLength="56" lengthAdjust="spacingAndGlyphs"><tspan>p22</tspan><tspan font-size="5" dy="-2.6">phox</tspan><tspan dy="2.6">-p47</tspan><tspan font-size="5" dy="-2.6">phox</tspan></text>
<text x="252.9" y="15.0" font-size="8.8" text-anchor="middle" font-weight="normal" fill="#111" textLength="38.8" lengthAdjust="spacingAndGlyphs" >P-ser 304</text>
<rect x="227.30" y="35.30" width="8.6" height="66.00" fill="#10558f"/>
<path d="M231.60 101.3v3" stroke="#222" stroke-width="0.9"/>
<path d="M229.70 110.10H233.50M231.60 108.20V112.00" stroke="#444" stroke-width="0.9" fill="none"/>
<path d="M245.50 79.52V73.58M243.10 73.58H247.90" stroke="#2a2a2a" stroke-width="1" fill="none"/>
<rect x="241.20" y="79.52" width="8.6" height="21.78" fill="#10558f"/>
<path d="M245.50 101.3v3" stroke="#222" stroke-width="0.9"/>
<path d="M243.40 110.10H247.60" stroke="#444" stroke-width="0.9" fill="none"/>
<path d="M259.40 55.10V49.82M257.00 49.82H261.80" stroke="#2a2a2a" stroke-width="1" fill="none"/>
<rect x="255.10" y="55.10" width="8.6" height="46.20" fill="#d01338"/>
<path d="M259.40 101.3v3" stroke="#222" stroke-width="0.9"/>
<path d="M257.50 110.10H261.30M259.40 108.20V112.00" stroke="#444" stroke-width="0.9" fill="none"/>
<path d="M273.30 82.49V76.22M270.90 76.22H275.70" stroke="#2a2a2a" stroke-width="1" fill="none"/>
<rect x="269.00" y="82.49" width="8.6" height="18.81" fill="#d01338"/>
<path d="M273.30 101.3v3" stroke="#222" stroke-width="0.9"/>
<path d="M271.20 110.10H275.40" stroke="#444" stroke-width="0.9" fill="none"/>
<path d="M222.3 21.89999999999999V101.3H282.8" stroke="#111" stroke-width="1.15" fill="none"/>
<path d="M219.0 101.30H222.3" stroke="#111" stroke-width="1"/>
<text x="216.50" y="104.20" font-size="8.8" text-anchor="end" font-weight="normal" fill="#222" textLength="10.6" lengthAdjust="spacingAndGlyphs" >0.0</text>
<path d="M219.0 68.30H222.3" stroke="#111" stroke-width="1"/>
<text x="216.50" y="71.20" font-size="8.8" text-anchor="end" font-weight="normal" fill="#222" textLength="10.6" lengthAdjust="spacingAndGlyphs" >0.5</text>
<path d="M219.0 35.30H222.3" stroke="#111" stroke-width="1"/>
<text x="216.50" y="38.20" font-size="8.8" text-anchor="end" font-weight="normal" fill="#222" textLength="10.6" lengthAdjust="spacingAndGlyphs" >1.0</text>
<text x="215.40" y="112.10" font-size="7.3" text-anchor="end" font-weight="normal" fill="#222" textLength="16.2" lengthAdjust="spacingAndGlyphs" >PMA</text>
<text transform="translate(198.20,61.60) rotate(-90)" font-size="9" text-anchor="middle" textLength="63.4" lengthAdjust="spacingAndGlyphs" fill="#222">Relative expression</text>
<path d="M231.65 34.6V29.2H259.45V49.8" stroke="#2a2a2a" stroke-width="0.95" fill="none"/>
<text x="245.55" y="28.599999999999998" font-size="7" text-anchor="middle" font-weight="normal" fill="#222" >*</text>
<text x="367.90000000000003" y="15.0" font-size="8.8" text-anchor="middle" font-weight="normal" fill="#111" textLength="38.8" lengthAdjust="spacingAndGlyphs" >P-ser 315</text>
<rect x="342.30" y="35.30" width="8.6" height="66.00" fill="#10558f"/>
<path d="M346.60 101.3v3" stroke="#222" stroke-width="0.9"/>
<path d="M344.70 110.10H348.50M346.60 108.20V112.00" stroke="#444" stroke-width="0.9" fill="none"/>
<path d="M360.50 83.15V76.88M358.10 76.88H362.90" stroke="#2a2a2a" stroke-width="1" fill="none"/>
<rect x="356.20" y="83.15" width="8.6" height="18.15" fill="#10558f"/>
<path d="M360.50 101.3v3" stroke="#222" stroke-width="0.9"/>
<path d="M358.40 110.10H362.60" stroke="#444" stroke-width="0.9" fill="none"/>
<path d="M374.40 51.80V46.52M372.00 46.52H376.80" stroke="#2a2a2a" stroke-width="1" fill="none"/>
<rect x="370.10" y="51.80" width="8.6" height="49.50" fill="#d01338"/>
<path d="M374.40 101.3v3" stroke="#222" stroke-width="0.9"/>
<path d="M372.50 110.10H376.30M374.40 108.20V112.00" stroke="#444" stroke-width="0.9" fill="none"/>
<path d="M388.30 91.40V90.08M385.90 90.08H390.70" stroke="#2a2a2a" stroke-width="1" fill="none"/>
<rect x="384.00" y="91.40" width="8.6" height="9.90" fill="#d01338"/>
<path d="M388.30 101.3v3" stroke="#222" stroke-width="0.9"/>
<path d="M386.20 110.10H390.40" stroke="#444" stroke-width="0.9" fill="none"/>
<path d="M337.3 21.89999999999999V101.3H397.8" stroke="#111" stroke-width="1.15" fill="none"/>
<path d="M334.0 101.30H337.3" stroke="#111" stroke-width="1"/>
<text x="331.50" y="104.20" font-size="8.8" text-anchor="end" font-weight="normal" fill="#222" textLength="10.6" lengthAdjust="spacingAndGlyphs" >0.0</text>
<path d="M334.0 68.30H337.3" stroke="#111" stroke-width="1"/>
<text x="331.50" y="71.20" font-size="8.8" text-anchor="end" font-weight="normal" fill="#222" textLength="10.6" lengthAdjust="spacingAndGlyphs" >0.5</text>
<path d="M334.0 35.30H337.3" stroke="#111" stroke-width="1"/>
<text x="331.50" y="38.20" font-size="8.8" text-anchor="end" font-weight="normal" fill="#222" textLength="10.6" lengthAdjust="spacingAndGlyphs" >1.0</text>
<text x="330.40" y="112.10" font-size="7.3" text-anchor="end" font-weight="normal" fill="#222" textLength="16.2" lengthAdjust="spacingAndGlyphs" >PMA</text>
<text transform="translate(313.20,61.60) rotate(-90)" font-size="9" text-anchor="middle" textLength="63.4" lengthAdjust="spacingAndGlyphs" fill="#222">Relative expression</text>
<path d="M346.65 34.6V29.2H374.45V45.2" stroke="#2a2a2a" stroke-width="0.95" fill="none"/>
<text x="360.55" y="28.599999999999998" font-size="7" text-anchor="middle" font-weight="normal" fill="#222" >*</text>
<text x="483.1" y="15.0" font-size="7.2" text-anchor="middle" font-weight="normal" fill="#111" textLength="32.8" lengthAdjust="spacingAndGlyphs" >P-ser 320</text>
<rect x="457.50" y="63.70" width="8.6" height="37.60" fill="#10558f"/>
<path d="M461.80 101.3v3" stroke="#222" stroke-width="0.9"/>
<path d="M459.90 110.10H463.70M461.80 108.20V112.00" stroke="#444" stroke-width="0.9" fill="none"/>
<path d="M475.70 51.67V36.63M473.30 36.63H478.10" stroke="#2a2a2a" stroke-width="1" fill="none"/>
<rect x="471.40" y="51.67" width="8.6" height="49.63" fill="#10558f"/>
<path d="M475.70 101.3v3" stroke="#222" stroke-width="0.9"/>
<path d="M473.60 110.10H477.80" stroke="#444" stroke-width="0.9" fill="none"/>
<path d="M489.60 60.32V49.04M487.20 49.04H492.00" stroke="#2a2a2a" stroke-width="1" fill="none"/>
<rect x="485.30" y="60.32" width="8.6" height="40.98" fill="#d01338"/>
<path d="M489.60 101.3v3" stroke="#222" stroke-width="0.9"/>
<path d="M487.70 110.10H491.50M489.60 108.20V112.00" stroke="#444" stroke-width="0.9" fill="none"/>
<path d="M503.50 59.19V42.27M501.10 42.27H505.90" stroke="#2a2a2a" stroke-width="1" fill="none"/>
<rect x="499.20" y="59.19" width="8.6" height="42.11" fill="#d01338"/>
<path d="M503.50 101.3v3" stroke="#222" stroke-width="0.9"/>
<path d="M501.40 110.10H505.60" stroke="#444" stroke-width="0.9" fill="none"/>
<path d="M452.5 21.89999999999999V101.3H513.0" stroke="#111" stroke-width="1.15" fill="none"/>
<path d="M449.2 101.30H452.5" stroke="#111" stroke-width="1"/>
<text x="446.70" y="104.20" font-size="8.8" text-anchor="end" font-weight="normal" fill="#222" textLength="10.6" lengthAdjust="spacingAndGlyphs" >0.0</text>
<path d="M449.2 82.50H452.5" stroke="#111" stroke-width="1"/>
<text x="446.70" y="85.40" font-size="8.8" text-anchor="end" font-weight="normal" fill="#222" textLength="10.6" lengthAdjust="spacingAndGlyphs" >0.5</text>
<path d="M449.2 63.70H452.5" stroke="#111" stroke-width="1"/>
<text x="446.70" y="66.60" font-size="8.8" text-anchor="end" font-weight="normal" fill="#222" textLength="10.6" lengthAdjust="spacingAndGlyphs" >1.0</text>
<path d="M449.2 44.90H452.5" stroke="#111" stroke-width="1"/>
<text x="446.70" y="47.80" font-size="8.8" text-anchor="end" font-weight="normal" fill="#222" textLength="10.6" lengthAdjust="spacingAndGlyphs" >1.5</text>
<path d="M449.2 26.10H452.5" stroke="#111" stroke-width="1"/>
<text x="446.70" y="29.00" font-size="8.8" text-anchor="end" font-weight="normal" fill="#222" textLength="10.6" lengthAdjust="spacingAndGlyphs" >2.0</text>
<text x="445.60" y="112.10" font-size="7.3" text-anchor="end" font-weight="normal" fill="#222" textLength="16.2" lengthAdjust="spacingAndGlyphs" >PMA</text>
<text transform="translate(428.40,61.60) rotate(-90)" font-size="9" text-anchor="middle" textLength="63.4" lengthAdjust="spacingAndGlyphs" fill="#222">Relative expression</text>
<text x="252.9" y="144.60000000000002" font-size="8.8" text-anchor="middle" font-weight="normal" fill="#111" textLength="38.8" lengthAdjust="spacingAndGlyphs" >P-ser 328</text>
<rect x="227.30" y="164.90" width="8.6" height="66.00" fill="#10558f"/>
<path d="M231.60 230.9v3" stroke="#222" stroke-width="0.9"/>
<path d="M229.70 239.70H233.50M231.60 237.80V241.60" stroke="#444" stroke-width="0.9" fill="none"/>
<path d="M245.50 193.48V190.64M243.10 190.64H247.90" stroke="#2a2a2a" stroke-width="1" fill="none"/>
<rect x="241.20" y="193.48" width="8.6" height="37.42" fill="#10558f"/>
<path d="M245.50 230.9v3" stroke="#222" stroke-width="0.9"/>
<path d="M243.40 239.70H247.60" stroke="#444" stroke-width="0.9" fill="none"/>
<path d="M259.40 188.92V180.08M257.00 180.08H261.80" stroke="#2a2a2a" stroke-width="1" fill="none"/>
<rect x="255.10" y="188.92" width="8.6" height="41.98" fill="#d01338"/>
<path d="M259.40 230.9v3" stroke="#222" stroke-width="0.9"/>
<path d="M257.50 239.70H261.30M259.40 237.80V241.60" stroke="#444" stroke-width="0.9" fill="none"/>
<path d="M273.30 189.98V185.36M270.90 185.36H275.70" stroke="#2a2a2a" stroke-width="1" fill="none"/>
<rect x="269.00" y="189.98" width="8.6" height="40.92" fill="#d01338"/>
<path d="M273.30 230.9v3" stroke="#222" stroke-width="0.9"/>
<path d="M271.20 239.70H275.40" stroke="#444" stroke-width="0.9" fill="none"/>
<path d="M222.3 151.5V230.9H282.8" stroke="#111" stroke-width="1.15" fill="none"/>
<path d="M219.0 230.90H222.3" stroke="#111" stroke-width="1"/>
<text x="216.50" y="233.80" font-size="8.8" text-anchor="end" font-weight="normal" fill="#222" textLength="10.6" lengthAdjust="spacingAndGlyphs" >0.0</text>
<path d="M219.0 197.90H222.3" stroke="#111" stroke-width="1"/>
<text x="216.50" y="200.80" font-size="8.8" text-anchor="end" font-weight="normal" fill="#222" textLength="10.6" lengthAdjust="spacingAndGlyphs" >0.5</text>
<path d="M219.0 164.90H222.3" stroke="#111" stroke-width="1"/>
<text x="216.50" y="167.80" font-size="8.8" text-anchor="end" font-weight="normal" fill="#222" textLength="10.6" lengthAdjust="spacingAndGlyphs" >1.0</text>
<text x="215.40" y="241.70" font-size="7.3" text-anchor="end" font-weight="normal" fill="#222" textLength="16.2" lengthAdjust="spacingAndGlyphs" >PMA</text>
<text transform="translate(198.20,191.20) rotate(-90)" font-size="9" text-anchor="middle" textLength="63.4" lengthAdjust="spacingAndGlyphs" fill="#222">Relative expression</text>
<path d="M231.65 164.4V159.2H259.45V179.5" stroke="#2a2a2a" stroke-width="0.95" fill="none"/>
<text x="245.55" y="158.6" font-size="7" text-anchor="middle" font-weight="normal" fill="#222" >*</text>
<text x="367.90000000000003" y="144.60000000000002" font-size="8.8" text-anchor="middle" font-weight="normal" fill="#111" textLength="38.8" lengthAdjust="spacingAndGlyphs" >P-ser 345</text>
<rect x="342.30" y="164.90" width="8.6" height="66.00" fill="#10558f"/>
<path d="M346.60 230.9v3" stroke="#222" stroke-width="0.9"/>
<path d="M344.70 239.70H348.50M346.60 237.80V241.60" stroke="#444" stroke-width="0.9" fill="none"/>
<path d="M360.50 181.73V178.76M358.10 178.76H362.90" stroke="#2a2a2a" stroke-width="1" fill="none"/>
<rect x="356.20" y="181.73" width="8.6" height="49.17" fill="#10558f"/>
<path d="M360.50 230.9v3" stroke="#222" stroke-width="0.9"/>
<path d="M358.40 239.70H362.60" stroke="#444" stroke-width="0.9" fill="none"/>
<path d="M374.40 172.49V164.90M372.00 164.90H376.80" stroke="#2a2a2a" stroke-width="1" fill="none"/>
<rect x="370.10" y="172.49" width="8.6" height="58.41" fill="#d01338"/>
<path d="M374.40 230.9v3" stroke="#222" stroke-width="0.9"/>
<path d="M372.50 239.70H376.30M374.40 237.80V241.60" stroke="#444" stroke-width="0.9" fill="none"/>
<path d="M388.30 181.73V176.78M385.90 176.78H390.70" stroke="#2a2a2a" stroke-width="1" fill="none"/>
<rect x="384.00" y="181.73" width="8.6" height="49.17" fill="#d01338"/>
<path d="M388.30 230.9v3" stroke="#222" stroke-width="0.9"/>
<path d="M386.20 239.70H390.40" stroke="#444" stroke-width="0.9" fill="none"/>
<path d="M337.3 151.5V230.9H397.8" stroke="#111" stroke-width="1.15" fill="none"/>
<path d="M334.0 230.90H337.3" stroke="#111" stroke-width="1"/>
<text x="331.50" y="233.80" font-size="8.8" text-anchor="end" font-weight="normal" fill="#222" textLength="10.6" lengthAdjust="spacingAndGlyphs" >0.0</text>
<path d="M334.0 197.90H337.3" stroke="#111" stroke-width="1"/>
<text x="331.50" y="200.80" font-size="8.8" text-anchor="end" font-weight="normal" fill="#222" textLength="10.6" lengthAdjust="spacingAndGlyphs" >0.5</text>
<path d="M334.0 164.90H337.3" stroke="#111" stroke-width="1"/>
<text x="331.50" y="167.80" font-size="8.8" text-anchor="end" font-weight="normal" fill="#222" textLength="10.6" lengthAdjust="spacingAndGlyphs" >1.0</text>
<text x="330.40" y="241.70" font-size="7.3" text-anchor="end" font-weight="normal" fill="#222" textLength="16.2" lengthAdjust="spacingAndGlyphs" >PMA</text>
<text transform="translate(313.20,191.20) rotate(-90)" font-size="9" text-anchor="middle" textLength="63.4" lengthAdjust="spacingAndGlyphs" fill="#222">Relative expression</text>
<text x="252.9" y="277.7" font-size="8.8" text-anchor="middle" font-weight="normal" fill="#111" textLength="38.8" lengthAdjust="spacingAndGlyphs" >P-ser 304</text>
<rect x="227.30" y="298.00" width="8.6" height="66.00" fill="#10558f"/>
<path d="M231.60 364.0v3" stroke="#222" stroke-width="0.9"/>
<path d="M229.70 372.80H233.50M231.60 370.90V374.70" stroke="#444" stroke-width="0.9" fill="none"/>
<path d="M245.50 325.06V303.28M243.10 303.28H247.90" stroke="#2a2a2a" stroke-width="1" fill="none"/>
<rect x="241.20" y="325.06" width="8.6" height="38.94" fill="#10558f"/>
<path d="M245.50 364.0v3" stroke="#222" stroke-width="0.9"/>
<path d="M243.40 372.80H247.60" stroke="#444" stroke-width="0.9" fill="none"/>
<path d="M259.40 325.72V317.80M257.00 317.80H261.80" stroke="#2a2a2a" stroke-width="1" fill="none"/>
<rect x="255.10" y="325.72" width="8.6" height="38.28" fill="#d01338"/>
<path d="M259.40 364.0v3" stroke="#222" stroke-width="0.9"/>
<path d="M257.50 372.80H261.30M259.40 370.90V374.70" stroke="#444" stroke-width="0.9" fill="none"/>
<path d="M273.30 346.84V342.22M270.90 342.22H275.70" stroke="#2a2a2a" stroke-width="1" fill="none"/>
<rect x="269.00" y="346.84" width="8.6" height="17.16" fill="#d01338"/>
<path d="M273.30 364.0v3" stroke="#222" stroke-width="0.9"/>
<path d="M271.20 372.80H275.40" stroke="#444" stroke-width="0.9" fill="none"/>
<path d="M222.3 284.6V364.0H282.8" stroke="#111" stroke-width="1.15" fill="none"/>
<path d="M219.0 364.00H222.3" stroke="#111" stroke-width="1"/>
<text x="216.50" y="366.90" font-size="8.8" text-anchor="end" font-weight="normal" fill="#222" textLength="10.6" lengthAdjust="spacingAndGlyphs" >0.0</text>
<path d="M219.0 331.00H222.3" stroke="#111" stroke-width="1"/>
<text x="216.50" y="333.90" font-size="8.8" text-anchor="end" font-weight="normal" fill="#222" textLength="10.6" lengthAdjust="spacingAndGlyphs" >0.5</text>
<path d="M219.0 298.00H222.3" stroke="#111" stroke-width="1"/>
<text x="216.50" y="300.90" font-size="8.8" text-anchor="end" font-weight="normal" fill="#222" textLength="10.6" lengthAdjust="spacingAndGlyphs" >1.0</text>
<text x="215.40" y="374.80" font-size="7.3" text-anchor="end" font-weight="normal" fill="#222" textLength="16.2" lengthAdjust="spacingAndGlyphs" >PMA</text>
<text transform="translate(198.20,324.30) rotate(-90)" font-size="9" text-anchor="middle" textLength="63.4" lengthAdjust="spacingAndGlyphs" fill="#222">Relative expression</text>
<path d="M231.65 297.4V292.3H259.45V316.8" stroke="#2a2a2a" stroke-width="0.95" fill="none"/>
<text x="245.55" y="291.7" font-size="7" text-anchor="middle" font-weight="normal" fill="#222" >*</text>
<text x="367.90000000000003" y="277.7" font-size="8.8" text-anchor="middle" font-weight="normal" fill="#111" textLength="38.8" lengthAdjust="spacingAndGlyphs" >P-ser 315</text>
<rect x="342.30" y="298.00" width="8.6" height="66.00" fill="#10558f"/>
<path d="M346.60 364.0v3" stroke="#222" stroke-width="0.9"/>
<path d="M344.70 372.80H348.50M346.60 370.90V374.70" stroke="#444" stroke-width="0.9" fill="none"/>
<path d="M360.50 354.76V352.12M358.10 352.12H362.90" stroke="#2a2a2a" stroke-width="1" fill="none"/>
<rect x="356.20" y="354.76" width="8.6" height="9.24" fill="#10558f"/>
<path d="M360.50 364.0v3" stroke="#222" stroke-width="0.9"/>
<path d="M358.40 372.80H362.60" stroke="#444" stroke-width="0.9" fill="none"/>
<path d="M374.40 311.20V305.92M372.00 305.92H376.80" stroke="#2a2a2a" stroke-width="1" fill="none"/>
<rect x="370.10" y="311.20" width="8.6" height="52.80" fill="#d01338"/>
<path d="M374.40 364.0v3" stroke="#222" stroke-width="0.9"/>
<path d="M372.50 372.80H376.30M374.40 370.90V374.70" stroke="#444" stroke-width="0.9" fill="none"/>
<path d="M388.30 358.39V356.08M385.90 356.08H390.70" stroke="#2a2a2a" stroke-width="1" fill="none"/>
<rect x="384.00" y="358.39" width="8.6" height="5.61" fill="#d01338"/>
<path d="M388.30 364.0v3" stroke="#222" stroke-width="0.9"/>
<path d="M386.20 372.80H390.40" stroke="#444" stroke-width="0.9" fill="none"/>
<path d="M337.3 284.6V364.0H397.8" stroke="#111" stroke-width="1.15" fill="none"/>
<path d="M334.0 364.00H337.3" stroke="#111" stroke-width="1"/>
<text x="331.50" y="366.90" font-size="8.8" text-anchor="end" font-weight="normal" fill="#222" textLength="10.6" lengthAdjust="spacingAndGlyphs" >0.0</text>
<path d="M334.0 331.00H337.3" stroke="#111" stroke-width="1"/>
<text x="331.50" y="333.90" font-size="8.8" text-anchor="end" font-weight="normal" fill="#222" textLength="10.6" lengthAdjust="spacingAndGlyphs" >0.5</text>
<path d="M334.0 298.00H337.3" stroke="#111" stroke-width="1"/>
<text x="331.50" y="300.90" font-size="8.8" text-anchor="end" font-weight="normal" fill="#222" textLength="10.6" lengthAdjust="spacingAndGlyphs" >1.0</text>
<text x="330.40" y="374.80" font-size="7.3" text-anchor="end" font-weight="normal" fill="#222" textLength="16.2" lengthAdjust="spacingAndGlyphs" >PMA</text>
<text transform="translate(313.20,324.30) rotate(-90)" font-size="9" text-anchor="middle" textLength="63.4" lengthAdjust="spacingAndGlyphs" fill="#222">Relative expression</text>
<path d="M346.65 297.4V291.8H374.45V304" stroke="#2a2a2a" stroke-width="0.95" fill="none"/>
<text x="360.55" y="291.2" font-size="7" text-anchor="middle" font-weight="normal" fill="#222" >*</text>
<text x="483.1" y="277.7" font-size="8.8" text-anchor="middle" font-weight="normal" fill="#111" textLength="38.8" lengthAdjust="spacingAndGlyphs" >P-ser 320</text>
<rect x="457.50" y="313.80" width="8.6" height="50.20" fill="#10558f"/>
<path d="M461.80 364.0v3" stroke="#222" stroke-width="0.9"/>
<path d="M459.90 372.80H463.70M461.80 370.90V374.70" stroke="#444" stroke-width="0.9" fill="none"/>
<path d="M475.70 334.38V330.37M473.30 330.37H478.10" stroke="#2a2a2a" stroke-width="1" fill="none"/>
<rect x="471.40" y="334.38" width="8.6" height="29.62" fill="#10558f"/>
<path d="M475.70 364.0v3" stroke="#222" stroke-width="0.9"/>
<path d="M473.60 372.80H477.80" stroke="#444" stroke-width="0.9" fill="none"/>
<path d="M489.60 320.33V313.30M487.20 313.30H492.00" stroke="#2a2a2a" stroke-width="1" fill="none"/>
<rect x="485.30" y="320.33" width="8.6" height="43.67" fill="#d01338"/>
<path d="M489.60 364.0v3" stroke="#222" stroke-width="0.9"/>
<path d="M487.70 372.80H491.50M489.60 370.90V374.70" stroke="#444" stroke-width="0.9" fill="none"/>
<path d="M503.50 340.41V332.88M501.10 332.88H505.90" stroke="#2a2a2a" stroke-width="1" fill="none"/>
<rect x="499.20" y="340.41" width="8.6" height="23.59" fill="#d01338"/>
<path d="M503.50 364.0v3" stroke="#222" stroke-width="0.9"/>
<path d="M501.40 372.80H505.60" stroke="#444" stroke-width="0.9" fill="none"/>
<path d="M452.5 284.6V364.0H513.0" stroke="#111" stroke-width="1.15" fill="none"/>
<path d="M449.2 364.00H452.5" stroke="#111" stroke-width="1"/>
<text x="446.70" y="366.90" font-size="8.8" text-anchor="end" font-weight="normal" fill="#222" textLength="10.6" lengthAdjust="spacingAndGlyphs" >0.0</text>
<path d="M449.2 338.90H452.5" stroke="#111" stroke-width="1"/>
<text x="446.70" y="341.80" font-size="8.8" text-anchor="end" font-weight="normal" fill="#222" textLength="10.6" lengthAdjust="spacingAndGlyphs" >0.5</text>
<path d="M449.2 313.80H452.5" stroke="#111" stroke-width="1"/>
<text x="446.70" y="316.70" font-size="8.8" text-anchor="end" font-weight="normal" fill="#222" textLength="10.6" lengthAdjust="spacingAndGlyphs" >1.0</text>
<path d="M449.2 288.70H452.5" stroke="#111" stroke-width="1"/>
<text x="446.70" y="291.60" font-size="8.8" text-anchor="end" font-weight="normal" fill="#222" textLength="10.6" lengthAdjust="spacingAndGlyphs" >1.5</text>
<text x="445.60" y="374.80" font-size="7.3" text-anchor="end" font-weight="normal" fill="#222" textLength="16.2" lengthAdjust="spacingAndGlyphs" >PMA</text>
<text transform="translate(428.40,324.30) rotate(-90)" font-size="9" text-anchor="middle" textLength="63.4" lengthAdjust="spacingAndGlyphs" fill="#222">Relative expression</text>
<text x="252.9" y="407.4" font-size="8.8" text-anchor="middle" font-weight="normal" fill="#111" textLength="38.8" lengthAdjust="spacingAndGlyphs" >P-ser 328</text>
<rect x="227.30" y="427.70" width="8.6" height="66.00" fill="#10558f"/>
<path d="M231.60 493.7v3" stroke="#222" stroke-width="0.9"/>
<path d="M229.70 502.50H233.50M231.60 500.60V504.40" stroke="#444" stroke-width="0.9" fill="none"/>
<path d="M245.50 456.28V453.04M243.10 453.04H247.90" stroke="#2a2a2a" stroke-width="1" fill="none"/>
<rect x="241.20" y="456.28" width="8.6" height="37.42" fill="#10558f"/>
<path d="M245.50 493.7v3" stroke="#222" stroke-width="0.9"/>
<path d="M243.40 502.50H247.60" stroke="#444" stroke-width="0.9" fill="none"/>
<path d="M259.40 446.18V438.26M257.00 438.26H261.80" stroke="#2a2a2a" stroke-width="1" fill="none"/>
<rect x="255.10" y="446.18" width="8.6" height="47.52" fill="#d01338"/>
<path d="M259.40 493.7v3" stroke="#222" stroke-width="0.9"/>
<path d="M257.50 502.50H261.30M259.40 500.60V504.40" stroke="#444" stroke-width="0.9" fill="none"/>
<path d="M273.30 459.38V451.20M270.90 451.20H275.70" stroke="#2a2a2a" stroke-width="1" fill="none"/>
<rect x="269.00" y="459.38" width="8.6" height="34.32" fill="#d01338"/>
<path d="M273.30 493.7v3" stroke="#222" stroke-width="0.9"/>
<path d="M271.20 502.50H275.40" stroke="#444" stroke-width="0.9" fill="none"/>
<path d="M222.3 414.29999999999995V493.7H282.8" stroke="#111" stroke-width="1.15" fill="none"/>
<path d="M219.0 493.70H222.3" stroke="#111" stroke-width="1"/>
<text x="216.50" y="496.60" font-size="8.8" text-anchor="end" font-weight="normal" fill="#222" textLength="10.6" lengthAdjust="spacingAndGlyphs" >0.0</text>
<path d="M219.0 460.70H222.3" stroke="#111" stroke-width="1"/>
<text x="216.50" y="463.60" font-size="8.8" text-anchor="end" font-weight="normal" fill="#222" textLength="10.6" lengthAdjust="spacingAndGlyphs" >0.5</text>
<path d="M219.0 427.70H222.3" stroke="#111" stroke-width="1"/>
<text x="216.50" y="430.60" font-size="8.8" text-anchor="end" font-weight="normal" fill="#222" textLength="10.6" lengthAdjust="spacingAndGlyphs" >1.0</text>
<text x="215.40" y="504.50" font-size="7.3" text-anchor="end" font-weight="normal" fill="#222" textLength="16.2" lengthAdjust="spacingAndGlyphs" >PMA</text>
<text transform="translate(198.20,454.00) rotate(-90)" font-size="9" text-anchor="middle" textLength="63.4" lengthAdjust="spacingAndGlyphs" fill="#222">Relative expression</text>
<path d="M231.65 427V421.6H259.45V436.4" stroke="#2a2a2a" stroke-width="0.95" fill="none"/>
<text x="233.05" y="419.5" font-size="7.8" text-anchor="start" font-weight="normal" fill="#1a1a1a" textLength="25.8" lengthAdjust="spacingAndGlyphs" >P=0.06</text>
<text x="367.90000000000003" y="407.4" font-size="8.8" text-anchor="middle" font-weight="normal" fill="#111" textLength="38.8" lengthAdjust="spacingAndGlyphs" >P-ser 345</text>
<rect x="342.30" y="427.70" width="8.6" height="66.00" fill="#10558f"/>
<path d="M346.60 493.7v3" stroke="#222" stroke-width="0.9"/>
<path d="M344.70 502.50H348.50M346.60 500.60V504.40" stroke="#444" stroke-width="0.9" fill="none"/>
<path d="M360.50 446.18V442.42M358.10 442.42H362.90" stroke="#2a2a2a" stroke-width="1" fill="none"/>
<rect x="356.20" y="446.18" width="8.6" height="47.52" fill="#10558f"/>
<path d="M360.50 493.7v3" stroke="#222" stroke-width="0.9"/>
<path d="M358.40 502.50H362.60" stroke="#444" stroke-width="0.9" fill="none"/>
<path d="M374.40 449.48V443.14M372.00 443.14H376.80" stroke="#2a2a2a" stroke-width="1" fill="none"/>
<rect x="370.10" y="449.48" width="8.6" height="44.22" fill="#d01338"/>
<path d="M374.40 493.7v3" stroke="#222" stroke-width="0.9"/>
<path d="M372.50 502.50H376.30M374.40 500.60V504.40" stroke="#444" stroke-width="0.9" fill="none"/>
<path d="M388.30 456.28V451.20M385.90 451.20H390.70" stroke="#2a2a2a" stroke-width="1" fill="none"/>
<rect x="384.00" y="456.28" width="8.6" height="37.42" fill="#d01338"/>
<path d="M388.30 493.7v3" stroke="#222" stroke-width="0.9"/>
<path d="M386.20 502.50H390.40" stroke="#444" stroke-width="0.9" fill="none"/>
<path d="M337.3 414.29999999999995V493.7H397.8" stroke="#111" stroke-width="1.15" fill="none"/>
<path d="M334.0 493.70H337.3" stroke="#111" stroke-width="1"/>
<text x="331.50" y="496.60" font-size="8.8" text-anchor="end" font-weight="normal" fill="#222" textLength="10.6" lengthAdjust="spacingAndGlyphs" >0.0</text>
<path d="M334.0 460.70H337.3" stroke="#111" stroke-width="1"/>
<text x="331.50" y="463.60" font-size="8.8" text-anchor="end" font-weight="normal" fill="#222" textLength="10.6" lengthAdjust="spacingAndGlyphs" >0.5</text>
<path d="M334.0 427.70H337.3" stroke="#111" stroke-width="1"/>
<text x="331.50" y="430.60" font-size="8.8" text-anchor="end" font-weight="normal" fill="#222" textLength="10.6" lengthAdjust="spacingAndGlyphs" >1.0</text>
<text x="330.40" y="504.50" font-size="7.3" text-anchor="end" font-weight="normal" fill="#222" textLength="16.2" lengthAdjust="spacingAndGlyphs" >PMA</text>
<text transform="translate(313.20,454.00) rotate(-90)" font-size="9" text-anchor="middle" textLength="63.4" lengthAdjust="spacingAndGlyphs" fill="#222">Relative expression</text>
<path d="M346.65 427V421.3H374.45V441.5" stroke="#2a2a2a" stroke-width="0.95" fill="none"/>
<text x="360.55" y="420.7" font-size="7" text-anchor="middle" font-weight="normal" fill="#222" >*</text>
<rect x="398" y="155" width="5" height="5" fill="#10558f"/>
<rect x="398" y="164.4" width="5" height="5" fill="#d01338"/>
<text x="406.3" y="160.4" font-size="7.6" fill="#111" textLength="75.7" lengthAdjust="spacingAndGlyphs"><tspan>COS</tspan><tspan font-size="4.6" dy="-2.4">phox</tspan><tspan dy="2.4">-siRNA-control</tspan></text>
<text x="406.3" y="169.6" font-size="7.6" fill="#111" textLength="77.5" lengthAdjust="spacingAndGlyphs"><tspan>COS</tspan><tspan font-size="4.6" dy="-2.4">phox</tspan><tspan dy="2.4">-siRNA-p67</tspan><tspan font-size="4.6" dy="-2.4">phox</tspan></text>
<rect x="398" y="418.2" width="5" height="5" fill="#10558f"/>
<rect x="398" y="438.2" width="5" height="5" fill="#d01338"/>
<text x="406.3" y="423.4" font-size="7.6" fill="#111" textLength="82.5" lengthAdjust="spacingAndGlyphs"><tspan>COS-7-gp91</tspan><tspan font-size="4.6" dy="-2.4">phox</tspan><tspan dy="2.4">-p22</tspan><tspan font-size="4.6" dy="-2.4">phox</tspan><tspan dy="2.4">-</tspan></text>
<text x="406.3" y="433" font-size="7.6" fill="#111" textLength="52.5" lengthAdjust="spacingAndGlyphs"><tspan>p67</tspan><tspan font-size="4.6" dy="-2.4">phox</tspan><tspan dy="2.4">-p47</tspan><tspan font-size="4.6" dy="-2.4">phox</tspan></text>
<text x="406.3" y="443.4" font-size="7.6" fill="#111" textLength="82.5" lengthAdjust="spacingAndGlyphs"><tspan>COS-7-gp91</tspan><tspan font-size="4.6" dy="-2.4">phox</tspan><tspan dy="2.4">-p22</tspan><tspan font-size="4.6" dy="-2.4">phox</tspan><tspan dy="2.4">-</tspan></text>
<text x="406.3" y="453" font-size="7.6" fill="#111" textLength="24.2" lengthAdjust="spacingAndGlyphs"><tspan>p47</tspan><tspan font-size="4.6" dy="-2.4">phox</tspan></text>
<rect x="0" y="0" width="520" height="1" fill="#000"/>
<rect x="0" y="0" width="1" height="529" fill="#000"/>
<rect x="519" y="0" width="1" height="529" fill="#000"/>
<rect x="0" y="527.6" width="520" height="1.4" fill="#000"/>
</svg>
</body></html>
